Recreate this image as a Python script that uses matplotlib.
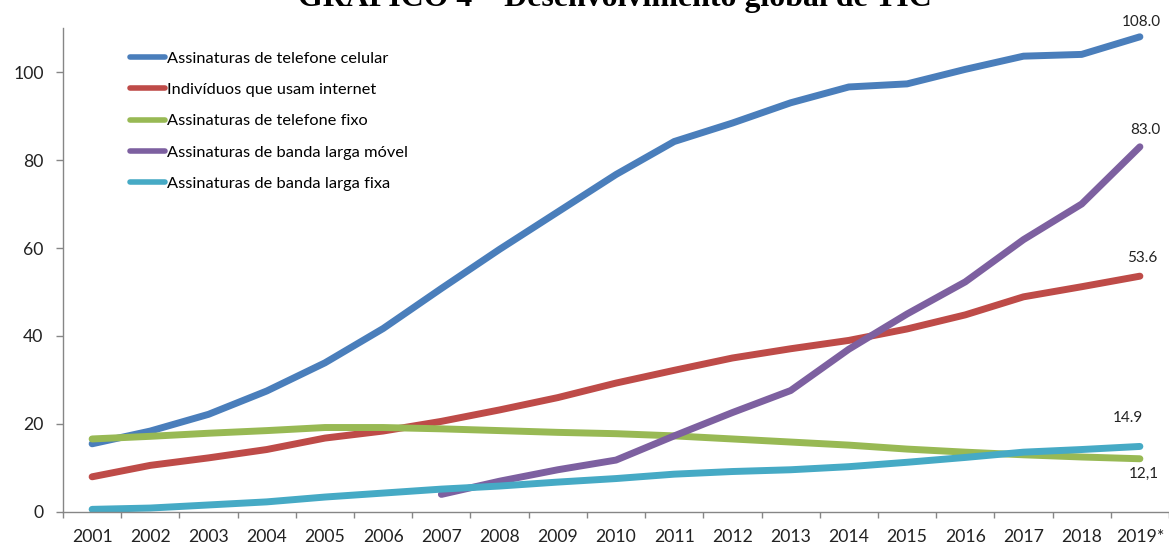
import matplotlib
matplotlib.use("Agg")
import matplotlib.pyplot as plt
import numpy as np

years = ["2001", "2002", "2003", "2004", "2005", "2006", "2007", "2008", "2009", "2010",
         "2011", "2012", "2013", "2014", "2015", "2016", "2017", "2018", "2019*"]

celular = [15.5, 18.4, 22.2, 27.5, 33.9, 41.7, 50.8, 59.7, 68.2, 76.7,
           84.2, 88.4, 93.0, 96.6, 97.3, 100.6, 103.6, 104.0, 108.0]
internet = [8.0, 10.6, 12.3, 14.2, 16.8, 18.4, 20.6, 23.2, 26.0, 29.3,
            32.2, 35.0, 37.1, 39.0, 41.6, 44.8, 48.9, 51.2, 53.6]
fixo = [16.6, 17.2, 17.9, 18.5, 19.2, 19.2, 18.9, 18.5, 18.1, 17.8,
        17.3, 16.6, 15.9, 15.2, 14.3, 13.6, 13.0, 12.5, 12.1]
banda_movel = [None, None, None, None, None, None, 4.0, 7.0, 9.6, 11.8,
               17.3, 22.6, 27.6, 37.0, 45.0, 52.3, 61.9, 70.0, 83.0]
banda_fixa = [0.6, 0.9, 1.6, 2.3, 3.4, 4.3, 5.2, 5.9, 6.8, 7.6,
              8.6, 9.2, 9.6, 10.3, 11.3, 12.4, 13.6, 14.2, 14.9]

series_names = ["Assinaturas de telefone celular", "Indivíduos que usam internet",
                "Assinaturas de telefone fixo", "Assinaturas de banda larga móvel",
                "Assinaturas de banda larga fixa"]
series_values = [celular, internet, fixo, banda_movel, banda_fixa]
colors = ["#4A7EBB", "#BE4B48", "#98B954", "#7D60A0", "#46AAC5"]

end_labels = ["108.0", "53.6", "12,1", "83.0", "14.9"]
end_offsets = [(1, 15), (2, 18), (4, -15), (5, 17), (-12, 28)]

plt.rcParams['font.family'] = ['Lato', 'DejaVu Sans']

W, H = 1169, 548
fig = plt.figure(figsize=(W / 100, H / 100), dpi=100)
ax = fig.add_axes([63 / W, 36 / H, 1 - 63 / W, (512 - 28) / H])

x = np.arange(len(years))
for name, vals, c in zip(series_names, series_values, colors):
    y = np.array([np.nan if v is None else v for v in vals], dtype=float)
    ax.plot(x, y, color=c, lw=5, solid_capstyle='round', solid_joinstyle='round', label=name)

for vals, lab, off in zip([celular, internet, fixo, banda_movel, banda_fixa], end_labels, end_offsets):
    ax.annotate(lab, (x[-1], vals[-1]), xytext=off, textcoords='offset pixels',
                ha='center', va='center', fontsize=11, color='#222222')

ax.set_xlim(-0.5, len(years) - 0.5)
ax.set_ylim(0, 110)
ax.set_yticks([0, 20, 40, 60, 80, 100])
ax.set_xticks(x)
ax.set_xticklabels(years)
ax.set_xticks(np.arange(-0.5, len(years), 1.0), minor=True)
ax.tick_params(axis='x', which='major', length=0, pad=12, labelsize=12.7, colors='#222222')
ax.tick_params(axis='x', which='minor', length=4, width=1, color='#868686')
ax.tick_params(axis='y', length=5, width=1, color='#868686', pad=9, labelsize=12.7, labelcolor='#222222')
for s in ['top', 'right']:
    ax.spines[s].set_visible(False)
for s in ['left', 'bottom']:
    ax.spines[s].set_color('#868686')
    ax.spines[s].set_linewidth(1)

leg = ax.legend(loc='upper left', bbox_to_anchor=(122 / W, 1 - 43 / H),
                bbox_transform=fig.transFigure, frameon=False, fontsize=11.8,
                handlelength=2.1, handletextpad=0.15, labelspacing=1.03, borderpad=0)
for ln in leg.get_lines():
    ln.set_linewidth(4)
    ln.set_solid_capstyle('round')

title = "GRÁFICO 4 – Desenvolvimento global de TIC"
t = fig.text(615 / W, 1 - 6 / H, title, ha='center', va='baseline',
             family='Liberation Serif', fontweight='bold', fontsize=20)
fig.canvas.draw()
wpx = t.get_window_extent().width
t.set_fontsize(20 * 632 / wpx)

fig.savefig("out.png", dpi=100)
